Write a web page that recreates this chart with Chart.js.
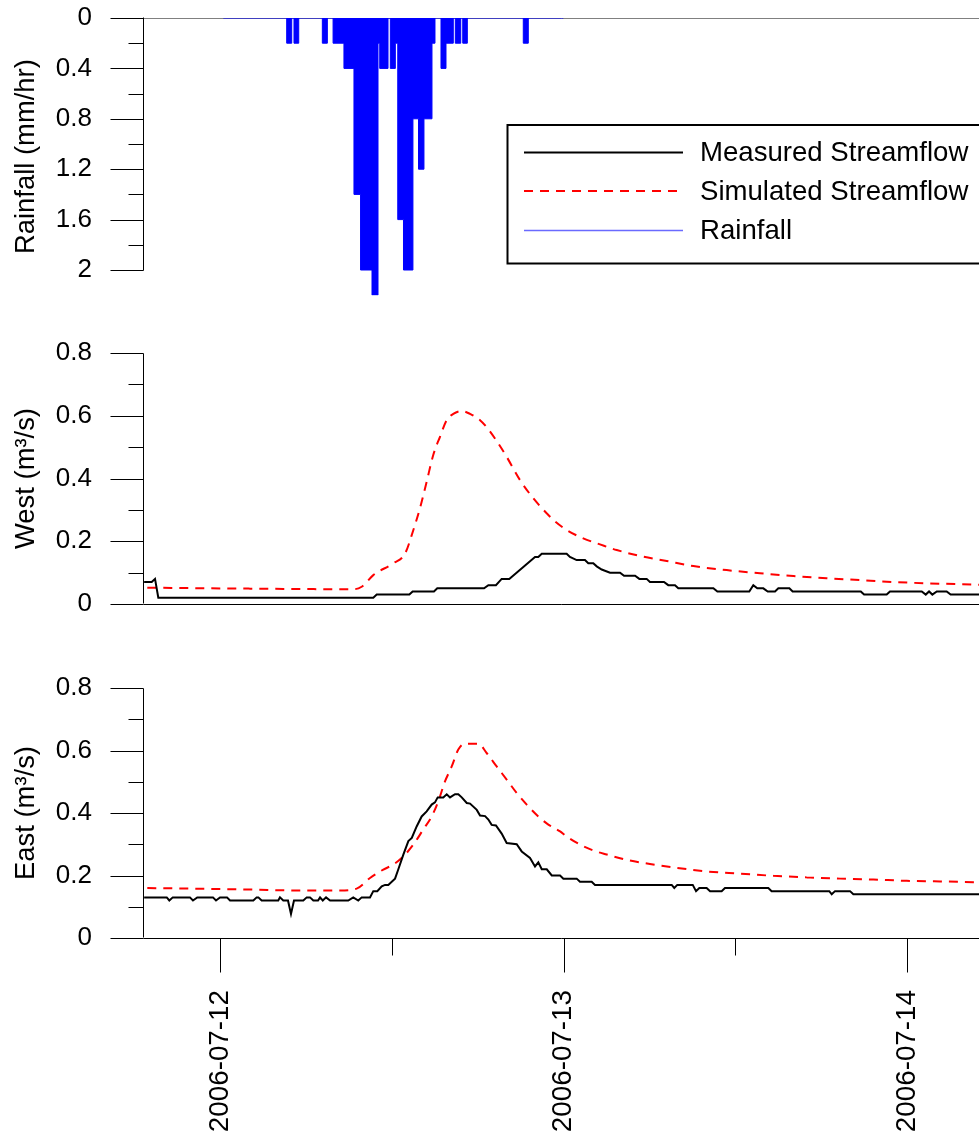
<!DOCTYPE html>
<html><head><meta charset="utf-8">
<script src="https://cdn.jsdelivr.net/npm/chart.js@4.4.1/dist/chart.umd.min.js"></script>
<style>
html,body{margin:0;padding:0;background:#fff;}
#wrap{position:relative;width:979px;height:1136px;overflow:hidden;background:#fff;}
canvas{position:absolute;left:0;top:0;}
</style></head><body>
<div id="wrap">
<canvas id="rain" width="979" height="1136"></canvas>
<canvas id="west" width="979" height="1136"></canvas>
<canvas id="east" width="979" height="1136"></canvas>
</div>
<script>
// x values: hours since 2006-07-12 00:00
const xMin = -5.31, xMax = 53.03;
const dateTicks = [0, 24, 48];
const dateLabels = ['2006-07-12', '2006-07-13', '2006-07-14'];
const halfDayTicks = [12, 36];
const rainTicks = [0, 0.4, 0.8, 1.2, 1.6, 2];
const rainMinorTicks = [0.2, 0.6, 1.0, 1.4, 1.8];
const flowTicks = [0, 0.2, 0.4, 0.6, 0.8];
const flowMinorTicks = [0.1, 0.3, 0.5, 0.7];

// Rainfall (mm/hr): value holds from each time until the next one
const rainHours  = [0.23, 4.66, 5.01, 5.17, 5.50, 7.15, 7.50, 7.90, 8.66, 9.36, 9.82, 10.62, 11.04, 11.16, 11.74, 11.90, 12.25, 12.42, 12.82, 13.48, 13.87, 14.25, 14.81, 15.02, 15.44, 15.79, 16.30, 16.44, 16.82, 16.96, 17.28, 21.19, 21.54, 23.99];
const rainValues = [0,    0.2,  0,    0.2,  0,    0.2,  0,    0.2,  0.4,  1.4,  2.0,  2.2,   0.2,   0.4,   0,     0.4,   0.2,   1.6,   2.0,   0.8,   1.2,   0.8,   0.2,   0,     0.4,   0.2,   0,     0.2,   0,     0.2,   0,     0.2,   0,     0];

// West (m3/s)
const westMeasHours  = [-5.3, -4.77, -4.54, -4.31, 10.71, 10.95, 13.23, 13.46, 14.95, 15.18, 18.45, 18.75, 19.28, 19.68, 20.21, 22.01, 22.24, 22.48, 24.22, 24.45, 24.92, 25.50, 25.73, 26.08, 26.32, 26.67, 27.25, 27.95, 28.23, 29.00, 29.30, 29.81, 30.04, 31.02, 31.32, 31.79, 32.02, 34.47, 34.75, 36.98, 37.26, 37.54, 37.96, 38.27, 38.78, 39.01, 39.78, 40.01, 44.77, 45.00, 46.58, 46.81, 49.03, 49.31, 49.54, 49.77, 50.08, 50.77, 51.05, 53.45];
const westMeasValues = [0.07, 0.07,  0.08,  0.02,  0.02,  0.03,  0.03,  0.04,  0.04,  0.05,  0.05,  0.06,  0.06,  0.08,  0.08,  0.15,  0.15,  0.16,  0.16,  0.15,  0.14,  0.14,  0.13,  0.13,  0.12,  0.11,  0.10,  0.10,  0.09,  0.09,  0.08,  0.08,  0.07,  0.07,  0.06,  0.06,  0.05,  0.05,  0.04,  0.04,  0.06,  0.05,  0.05,  0.04,  0.04,  0.05,  0.05,  0.04,  0.04,  0.03,  0.03,  0.04,  0.04,  0.03,  0.04,  0.03,  0.04,  0.04,  0.03,  0.03];
const westSimHours  = [-5.08, 2.10, 9.31, 9.90, 10.71, 12.11, 12.93, 13.51, 13.97, 14.44, 14.90, 15.37, 15.84, 16.30, 16.89, 17.47, 18.17, 18.75, 19.44, 20.03, 20.96, 21.89, 22.83, 23.29, 24.22, 25.38, 26.55, 27.72, 29.34, 31.21, 33.07, 35.40, 37.73, 40.06, 42.39, 44.72, 47.04, 49.38, 51.70, 53.45];
const westSimValues = [0.052, 0.049, 0.047, 0.055, 0.092, 0.130, 0.161, 0.236, 0.305, 0.390, 0.475, 0.533, 0.586, 0.606, 0.615, 0.606, 0.586, 0.557, 0.512, 0.469, 0.395, 0.337, 0.289, 0.268, 0.236, 0.209, 0.190, 0.172, 0.153, 0.137, 0.121, 0.108, 0.098, 0.089, 0.082, 0.076, 0.070, 0.066, 0.063, 0.061];

// East (m3/s)
const eastMeasHours  = [-5.3, -3.72, -3.54, -3.30, -2.10, -1.89, -1.59, -0.49, -0.28, 0, 0.49, 0.70, 2.33, 2.56, 2.68, 2.91, 4.07, 4.19, 4.42, 4.75, 4.96, 5.17, 5.82, 6.06, 6.29, 6.52, 6.85, 6.99, 7.18, 7.41, 7.69, 8.96, 9.31, 9.66, 9.90, 10.48, 10.71, 10.99, 11.30, 11.53, 11.76, 12.00, 12.23, 12.46, 12.81, 13.16, 13.40, 13.74, 14.09, 14.44, 14.79, 15.02, 15.21, 15.60, 15.84, 16.07, 16.42, 16.65, 16.89, 17.24, 17.47, 17.94, 18.17, 18.52, 18.75, 18.98, 19.28, 19.68, 20.03, 20.73, 21.08, 21.66, 22.01, 22.24, 22.48, 22.83, 23.18, 23.76, 23.99, 24.92, 25.15, 25.97, 26.20, 31.56, 31.74, 31.95, 33.03, 33.26, 33.49, 34.00, 34.24, 35.05, 35.28, 38.31, 38.54, 42.57, 42.74, 42.97, 44.02, 44.25, 53.45];
const eastMeasValues = [0.13, 0.13,  0.12,  0.13,  0.13,  0.12,  0.13,  0.13,  0.12,  0.13, 0.13, 0.12, 0.12, 0.13, 0.13, 0.12, 0.12, 0.13, 0.12, 0.12, 0.077, 0.12, 0.12, 0.13, 0.13, 0.12, 0.12, 0.13, 0.12, 0.13, 0.12, 0.12, 0.13, 0.12, 0.13, 0.13, 0.15, 0.15, 0.165, 0.17, 0.17, 0.18, 0.19, 0.22, 0.267, 0.31, 0.32, 0.357, 0.389, 0.405, 0.427, 0.434, 0.45, 0.45, 0.46, 0.45, 0.46, 0.46, 0.45, 0.432, 0.43, 0.41, 0.392, 0.39, 0.379, 0.362, 0.36, 0.334, 0.304, 0.30, 0.277, 0.256, 0.229, 0.242, 0.22, 0.22, 0.20, 0.20, 0.19, 0.19, 0.18, 0.18, 0.17, 0.17, 0.16, 0.17, 0.17, 0.15, 0.16, 0.16, 0.15, 0.15, 0.16, 0.16, 0.15, 0.15, 0.14, 0.15, 0.15, 0.14, 0.14];
const eastSimHours  = [-5.08, 2.10, 5.59, 8.38, 9.55, 10.48, 11.41, 12.11, 12.81, 13.51, 14.20, 14.79, 15.25, 15.72, 16.19, 16.65, 17.12, 18.05, 18.63, 19.33, 20.03, 20.73, 21.43, 22.24, 22.94, 23.76, 24.22, 25.15, 26.08, 27.02, 28.42, 30.04, 31.67, 34.01, 36.33, 38.66, 40.99, 43.32, 45.65, 47.98, 50.31, 53.45];
const eastSimValues = [0.160, 0.155, 0.152, 0.152, 0.158, 0.192, 0.219, 0.235, 0.261, 0.299, 0.347, 0.389, 0.437, 0.501, 0.549, 0.603, 0.622, 0.622, 0.592, 0.549, 0.507, 0.464, 0.427, 0.389, 0.363, 0.341, 0.325, 0.299, 0.280, 0.267, 0.250, 0.237, 0.226, 0.213, 0.206, 0.199, 0.194, 0.190, 0.187, 0.183, 0.181, 0.178];

const FONT = "'Liberation Sans', Arial, sans-serif";
const measuredStyle  = { label: 'Measured Streamflow', color: '#000000', width: 2, dash: [] };
const simulatedStyle = { label: 'Simulated Streamflow', color: '#ff0000', width: 2, dash: [9, 7] };
const rainStyle      = { label: 'Rainfall', color: '#0000ff', legendColor: '#6a6aff', width: 1.5, dash: [] };

function pts(xs, ys) { return xs.map((x, i) => ({ x: x, y: ys[i] })); }
function fmt(v) { return String(Number(v.toFixed(2))); }
function px(v) { return Math.round(v) + 0.5; }

const axesPlugin = {
  id: 'axesDeco',
  beforeDatasetsDraw(chart, args, o) {
    const ctx = chart.ctx, ys = chart.scales.y, ca = chart.chartArea;
    const ax = Math.round(ca.left) - 0.5;
    const y0 = px(ys.getPixelForValue(0));
    ctx.save();
    ctx.lineWidth = 1;
    ctx.strokeStyle = o.hLineColor;
    ctx.beginPath(); ctx.moveTo(ax, y0); ctx.lineTo(ca.right + 2, y0); ctx.stroke();
    ctx.restore();
  },
  afterDraw(chart, args, o) {
    const ctx = chart.ctx, ys = chart.scales.y, xs = chart.scales.x, ca = chart.chartArea;
    const ax = Math.round(ca.left) - 0.5;
    const seg = (x1, y1, x2, y2) => { ctx.beginPath(); ctx.moveTo(x1, y1); ctx.lineTo(x2, y2); ctx.stroke(); };
    ctx.save();
    ctx.lineWidth = 1;
    const y0 = px(ys.getPixelForValue(0));
    ctx.strokeStyle = '#000';
    seg(ax, ys.getPixelForValue(o.yRange[0]) - 0.5, ax, ys.getPixelForValue(o.yRange[1]) + 0.5);
    o.yMajor.forEach(v => { const y = px(ys.getPixelForValue(v)); seg(ax - 33, y, ax, y); });
    o.yMinor.forEach(v => { const y = px(ys.getPixelForValue(v)); seg(ax - 15, y, ax, y); });
    if (o.xMajor) {
      o.xMajor.forEach(v => { const x = px(xs.getPixelForValue(v)); seg(x, y0, x, y0 + 34); });
      o.xMinor.forEach(v => { const x = px(xs.getPixelForValue(v)); seg(x, y0, x, y0 + 17); });
    }
    ctx.restore();
  }
};

const legendPlugin = {
  id: 'boxLegend',
  afterDraw(chart, args, o) {
    const ctx = chart.ctx;
    ctx.save();
    ctx.lineWidth = 2;
    ctx.strokeStyle = '#000';
    ctx.strokeRect(507.5, 125, 520, 138.5);
    ctx.font = '27.6px ' + FONT;
    ctx.textBaseline = 'middle';
    ctx.textAlign = 'left';
    const rows = [152.5, 191, 230.5];
    o.items.forEach((it, i) => {
      ctx.beginPath();
      ctx.strokeStyle = it.legendColor || it.color;
      ctx.lineWidth = it.width;
      ctx.setLineDash(it.dash);
      ctx.moveTo(524, rows[i]);
      ctx.lineTo(683, rows[i]);
      ctx.stroke();
      ctx.setLineDash([]);
      ctx.fillStyle = '#000';
      ctx.fillText(it.label, 700, rows[i] + 1);
    });
    ctx.restore();
  }
};

function yAxis(min, max, reverse, ticks, title) {
  return {
    type: 'linear', min: min, max: max, reverse: reverse,
    afterBuildTicks: s => { s.ticks = ticks.map(v => ({ value: v })); },
    afterFit: s => { s.width = 144; s.paddingTop = 0; s.paddingBottom = 0; },
    grid: { display: false, drawTicks: false },
    border: { display: false },
    ticks: { padding: 52, color: '#000', font: { family: FONT, size: 26 }, callback: v => fmt(v) },
    title: { display: true, text: title, color: '#000', font: { family: FONT, size: 27.4 }, padding: { top: 10, bottom: 0 } }
  };
}

function hiddenX() {
  return { type: 'linear', min: xMin, max: xMax, display: false };
}

const common = {
  responsive: false, animation: false, devicePixelRatio: 1,
  events: [],
  elements: { point: { radius: 0 }, line: { tension: 0 } },
};

Chart.defaults.font.family = FONT;

// Rainfall panel
new Chart(document.getElementById('rain'), {
  type: 'line',
  data: { datasets: [{
    label: rainStyle.label,
    data: pts(rainHours, rainValues),
    stepped: true,
    borderColor: rainStyle.color, borderWidth: 1,
    backgroundColor: rainStyle.color, fill: 'origin', pointRadius: 0
  }]},
  options: Object.assign({}, common, {
    layout: { padding: { top: 18, bottom: 1136 - 295.2, left: 0, right: 0 } },
    scales: { x: hiddenX(), y: yAxis(0, 2.2, true, rainTicks, 'Rainfall (mm/hr)') },
    plugins: {
      legend: { display: false }, tooltip: { enabled: false },
      axesDeco: { hLineColor: '#808080', yRange: [0, 2], yMajor: rainTicks, yMinor: rainMinorTicks },
      boxLegend: { items: [measuredStyle, simulatedStyle, rainStyle] }
    }
  }),
  plugins: [axesPlugin, legendPlugin]
});

function flowDatasets(mh, mv, sh, sv) {
  return [
    { label: measuredStyle.label, data: pts(mh, mv), borderColor: measuredStyle.color, borderWidth: measuredStyle.width, pointRadius: 0, fill: false },
    { label: simulatedStyle.label, data: pts(sh, sv), borderColor: simulatedStyle.color, borderWidth: simulatedStyle.width, borderDash: simulatedStyle.dash, cubicInterpolationMode: 'monotone', pointRadius: 0, fill: false }
  ];
}

// West panel
new Chart(document.getElementById('west'), {
  type: 'line',
  data: { datasets: flowDatasets(westMeasHours, westMeasValues, westSimHours, westSimValues) },
  options: Object.assign({}, common, {
    layout: { padding: { top: 353, bottom: 1136 - 604, left: 0, right: 0 } },
    scales: { x: hiddenX(), y: yAxis(0, 0.8, false, flowTicks, 'West (m³/s)') },
    plugins: {
      legend: { display: false }, tooltip: { enabled: false },
      axesDeco: { hLineColor: '#000', yRange: [0, 0.8], yMajor: flowTicks, yMinor: flowMinorTicks }
    }
  }),
  plugins: [axesPlugin]
});

// East panel
new Chart(document.getElementById('east'), {
  type: 'line',
  data: { datasets: flowDatasets(eastMeasHours, eastMeasValues, eastSimHours, eastSimValues) },
  options: Object.assign({}, common, {
    layout: { padding: { top: 688, bottom: 0, left: 0, right: 0 } },
    scales: {
      x: {
        type: 'linear', min: xMin, max: xMax, position: 'bottom',
        afterBuildTicks: s => { s.ticks = dateTicks.map(v => ({ value: v })); },
        afterFit: s => { s.height = 198; s.paddingLeft = 0; s.paddingRight = 0; },
        grid: { display: false, drawTicks: false },
        border: { display: false },
        ticks: {
          autoSkip: false, minRotation: 90, maxRotation: 90, padding: 52, color: '#000',
          font: { family: FONT, size: 27.8 },
          callback: v => dateLabels[dateTicks.indexOf(v)]
        }
      },
      y: yAxis(0, 0.8, false, flowTicks, 'East (m³/s)')
    },
    plugins: {
      legend: { display: false }, tooltip: { enabled: false },
      axesDeco: { hLineColor: '#000', yRange: [0, 0.8], yMajor: flowTicks, yMinor: flowMinorTicks, xMajor: dateTicks, xMinor: halfDayTicks }
    }
  }),
  plugins: [axesPlugin]
});
</script>
</body></html>
